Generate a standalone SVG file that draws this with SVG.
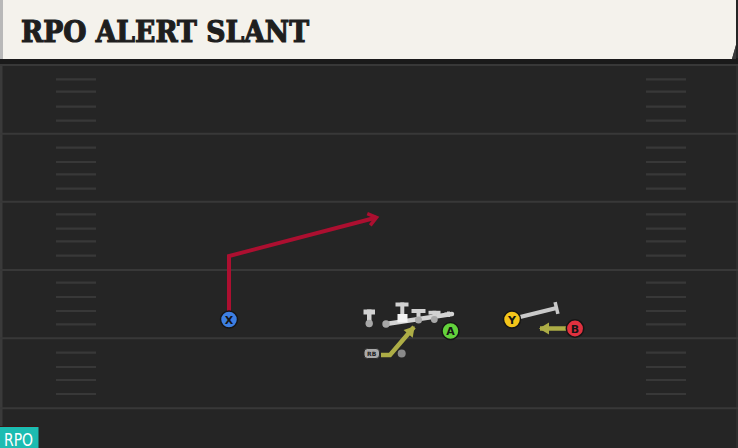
<svg xmlns="http://www.w3.org/2000/svg" width="738" height="448" viewBox="0 0 738 448">
<style>
.yl{stroke:#383838;stroke-width:2;fill:none}
.hm{stroke:#383838;stroke-width:2.2;fill:none}
.pl{stroke:#151515;stroke-width:1.5}
.lt{font-family:"DejaVu Sans",sans-serif;font-weight:bold;font-size:11px;fill:#151515;text-anchor:middle}
.red{stroke:#ac0f30;stroke-width:4;fill:none;stroke-linejoin:miter}
.olv{stroke:#adad46;stroke-width:4.5;fill:none}
.blk{fill:#d2d2d2}
.olc{fill:#a8a8a8}
</style>
<defs>
<marker id="chev" markerUnits="userSpaceOnUse" markerWidth="20" markerHeight="20" refX="0" refY="0" viewBox="-12 -10 14 20" orient="auto" overflow="visible">
<path d="M-8,-6 L0,0 L-8,6" fill="none" stroke="#ac0f30" stroke-width="3.5"/>
</marker>
<marker id="tri" markerUnits="userSpaceOnUse" markerWidth="20" markerHeight="20" refX="0" refY="0" viewBox="-12 -10 14 20" orient="auto" overflow="visible">
<path d="M-9,-6 L1,0 L-9,6 Z" fill="#adad46"/>
</marker>
</defs>
<rect x="0" y="0" width="738" height="448" fill="#252525"/>
<rect x="0" y="60" width="2.5" height="388" fill="#3a3a3a"/>
<rect x="736" y="60" width="2" height="388" fill="#2e2e2e"/>
<g id="field">
<g class="yl">
<line x1="0" y1="65" x2="738" y2="65"/>
<line x1="0" y1="133.7" x2="738" y2="133.7"/>
<line x1="0" y1="201.7" x2="738" y2="201.7"/>
<line x1="0" y1="270" x2="738" y2="270"/>
<line x1="0" y1="338.3" x2="738" y2="338.3"/>
<line x1="0" y1="408.3" x2="738" y2="408.3"/>
</g>
<path class="hm" d="M56,79.3H96M56,91.7H96M56,106.7H96M56,120.7H96M56,147.7H96M56,162H96M56,174.3H96M56,188.7H96M56,214.3H96M56,228.7H96M56,241.3H96M56,255.7H96M56,282.7H96M56,297H96M56,311H96M56,324.3H96M56,352.7H96M56,367H96M56,380H96M56,394H96"/>
<path class="hm" d="M646,79.3H686M646,91.7H686M646,106.7H686M646,120.7H686M646,147.7H686M646,162H686M646,174.3H686M646,188.7H686M646,214.3H686M646,228.7H686M646,241.3H686M646,255.7H686M646,282.7H686M646,297H686M646,311H686M646,324.3H686M646,352.7H686M646,367H686M646,380H686M646,394H686"/>
</g>
<g id="header">
<rect x="0" y="58" width="738" height="6" fill="#1a1a1a"/>
<path d="M0,0 H736 V45 L732,59 H0 Z" fill="#f4f2ec"/>
<path d="M732,59 L736,45 V59 Z" fill="#3a3a3a"/>
<rect x="0" y="0" width="3" height="59" fill="#b8b8b8"/>
<text x="21" y="42" font-family="'DejaVu Serif',serif" font-weight="bold" font-size="29" fill="#1e1e1e" stroke="#1e1e1e" stroke-width="1.2" textLength="288" lengthAdjust="spacingAndGlyphs">RPO ALERT SLANT</text>
</g>
<g id="line">
<line x1="386" y1="324" x2="452" y2="314" stroke="#d4d4d4" stroke-width="4.5" stroke-linecap="round"/>
<g id="lt">
<rect class="blk" x="363.5" y="309.5" width="11.5" height="5"/>
<rect class="blk" x="367" y="309.5" width="4.5" height="12.5"/>
<circle class="olc" cx="369.2" cy="323.5" r="3.7"/>
</g>
<circle id="lg" class="olc" cx="386" cy="324" r="3.7"/>
<g id="c">
<rect class="blk" x="395.5" y="302.5" width="13" height="4"/>
<rect class="blk" x="400.3" y="302.5" width="4" height="13"/>
<rect x="397.5" y="314" width="10" height="8.5" fill="#f4f4f4"/>
</g>
<g id="rg">
<rect class="blk" x="411.5" y="309" width="14" height="4"/>
<rect class="blk" x="416.5" y="309" width="4" height="10.5"/>
<circle class="olc" cx="418.5" cy="320" r="3.5"/>
</g>
<g id="rt">
<rect class="blk" x="428.5" y="310.8" width="12" height="3.8"/>
<rect class="blk" x="432.5" y="310.8" width="3.8" height="8.5"/>
<circle class="olc" cx="434.3" cy="319.5" r="3.4"/>
</g>
<g id="te">
<rect class="blk" x="444.5" y="312.5" width="8" height="3"/>
<rect class="blk" x="447" y="311.5" width="3" height="5.5"/>
</g>
</g>
<g id="connectors">
<polyline class="red" points="229,311 229,256 376.5,217.5" marker-end="url(#chev)"/>
<polyline class="olv" points="381,355 390,355 414,327" marker-end="url(#tri)"/>
<line class="olv" x1="567" y1="328.5" x2="540" y2="328.5" marker-end="url(#tri)"/>
<line x1="512" y1="319" x2="556.5" y2="308" stroke="#c9c9c9" stroke-width="4"/>
<line x1="555.1" y1="302.2" x2="557.9" y2="313.8" stroke="#c9c9c9" stroke-width="3.5"/>
</g>
<g id="qb">
<circle cx="401.7" cy="353.5" r="4" fill="#8a8a8a"/>
</g>
<g id="rb">
<rect x="364" y="348.5" width="15.5" height="10" rx="3.5" fill="#a9a9a9" stroke="#2a2a2a" stroke-width="1"/>
<text x="371.7" y="356" font-family="'DejaVu Sans',sans-serif" font-weight="bold" font-size="6" fill="#222" text-anchor="middle">RB</text>
</g>
<g id="x">
<circle class="pl" cx="229" cy="319.5" r="8.5" fill="#3d7fe2"/>
<text class="lt" x="229" y="323.5">X</text>
</g>
<g id="a">
<circle class="pl" cx="450.5" cy="331" r="8.5" fill="#63d23c"/>
<text class="lt" x="450.5" y="335">A</text>
</g>
<g id="y">
<circle class="pl" cx="512" cy="319.5" r="8.5" fill="#f3c51a"/>
<text class="lt" x="512" y="323.5">Y</text>
</g>
<g id="b">
<circle class="pl" cx="575" cy="328.5" r="8.7" fill="#e0313f"/>
<text class="lt" x="575" y="332.5">B</text>
</g>
<g id="tag">
<rect x="0" y="427" width="38.5" height="21" fill="#1cbcb1"/>
<line x1="0" y1="426.5" x2="38.5" y2="426.5" stroke="#3a1717" stroke-width="1"/>
<text x="4" y="445.5" font-family="'DejaVu Sans Condensed','DejaVu Sans',sans-serif" font-size="17" fill="#ffffff" textLength="29" lengthAdjust="spacingAndGlyphs">RPO</text>
</g>
</svg>
